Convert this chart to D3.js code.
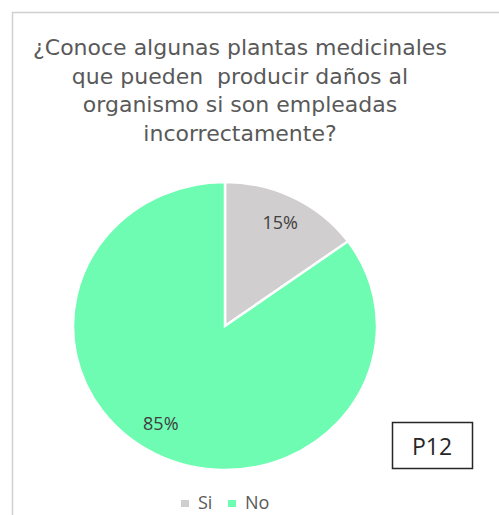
<!DOCTYPE html>
<html>
<head>
<meta charset="utf-8">
<script src="https://cdn.jsdelivr.net/npm/d3@7"></script>
<style>
  html, body { margin: 0; padding: 0; background: #fff; }
  svg { display: block; }
</style>
</head>
<body>
<svg id="chart" width="499" height="515"></svg>
<script>
// chart data
const categories = ['Si', 'No'];
const values = [15, 85];
const colors = ['#d0cece', '#6dfcb2'];
const titleLines = [
  '¿Conoce algunas plantas medicinales',
  'que pueden  producir daños al',
  'organismo si son empleadas',
  'incorrectamente?'
];
const tagLabel = 'P12';

const svg = d3.select('#chart');
const font = 'Open Sans, sans-serif';

// chart area border (only top and left visible)
svg.append('path')
  .attr('d', 'M12.5,515 V12.5 H499')
  .attr('fill', 'none')
  .attr('stroke', '#d0d0d0')
  .attr('stroke-width', 1.5);

// title - one text per line, kept small enough that lines don't collide
svg.selectAll('.title')
  .data(titleLines)
  .enter()
  .append('text')
  .attr('class', 'title')
  .attr('x', 240)
  .attr('y', (d, i) => 55 + i * 28.5)
  .attr('text-anchor', 'middle')
  .attr('font-family', 'DejaVu Sans, sans-serif')
  .attr('font-size', 22)
  .attr('fill', '#595959')
  .style('white-space', 'pre')
  .text(d => d);

// pie
const r = 152;
const sy = 144 / 152;
const data = categories.map((c, i) => ({ name: c, value: values[i], color: colors[i] }));
const pie = d3.pie().sort(null).value(d => d.value);
const arc = d3.arc().innerRadius(0).outerRadius(r);
const labelArc = d3.arc().innerRadius(r * 0.8).outerRadius(r * 0.8);
const labelNudge = [[0, 0], [-9, -5]];

const g = svg.append('g')
  .attr('transform', `translate(225,326) scale(1,${sy})`);

const arcs = pie(data);

g.selectAll('path')
  .data(arcs)
  .enter()
  .append('path')
  .attr('d', arc)
  .attr('fill', d => d.data.color)
  .attr('stroke', '#fff')
  .attr('stroke-width', 2.5);

// labels drawn outside the scaled group so text is not squashed
svg.selectAll('.lbl')
  .data(arcs)
  .enter()
  .append('text')
  .attr('class', 'lbl')
  .attr('x', (d, i) => 225 + labelArc.centroid(d)[0] + labelNudge[i][0])
  .attr('y', (d, i) => 326 + labelArc.centroid(d)[1] * sy + 6 + labelNudge[i][1])
  .attr('text-anchor', 'middle')
  .attr('font-family', font)
  .attr('font-size', 18)
  .attr('fill', '#404040')
  .text(d => d.data.value + '%');

// legend
const legendX = [181, 228];
const legend = svg.selectAll('.leg')
  .data(data)
  .enter()
  .append('g')
  .attr('class', 'leg')
  .attr('transform', (d, i) => `translate(${legendX[i]},500)`);

legend.append('rect')
  .attr('width', 8)
  .attr('height', 7)
  .attr('fill', d => d.color);

legend.append('text')
  .attr('x', 17)
  .attr('y', 9)
  .attr('font-family', font)
  .attr('font-size', 18)
  .attr('fill', '#595959')
  .text(d => d.name);

// P12 tag box
svg.append('rect')
  .attr('x', 392.5)
  .attr('y', 422.5)
  .attr('width', 80)
  .attr('height', 46)
  .attr('fill', '#fff')
  .attr('stroke', '#262626')
  .attr('stroke-width', 1.5);

svg.append('text')
  .attr('x', 432)
  .attr('y', 455)
  .attr('text-anchor', 'middle')
  .attr('font-family', font)
  .attr('font-size', 23)
  .attr('fill', '#262626')
  .text(tagLabel);
</script>
</body>
</html>
